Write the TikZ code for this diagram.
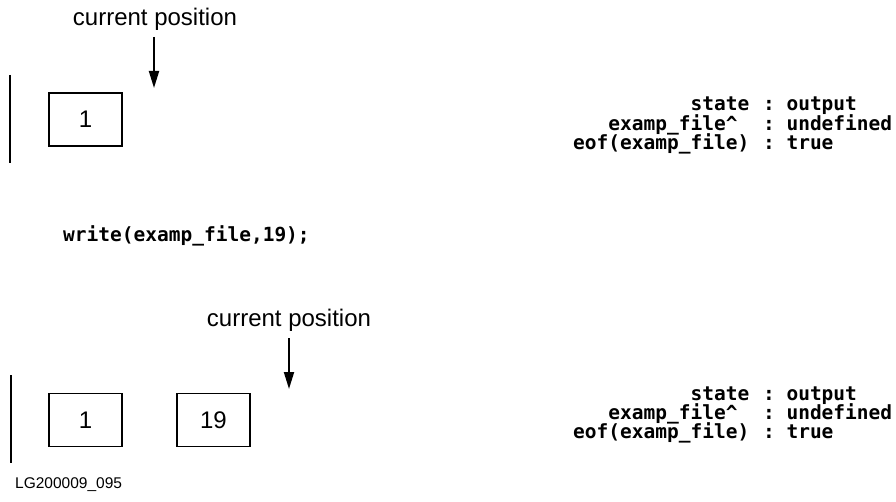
\documentclass[tikz,border=0pt]{standalone}
\usepackage{fontspec}
\setmainfont{Liberation Sans}
\newfontfamily\codefont{DejaVu Sans Mono Bold}
\usetikzlibrary{arrows.meta}
\begin{document}
\begin{tikzpicture}[x=1pt,y=-1pt,
  lbl/.style={font=\fontsize{24}{28}\selectfont, inner sep=0},
  cell/.style={draw, line width=1.9pt, minimum width=73pt, minimum height=53pt, inner sep=0, font=\fontsize{24}{28}\selectfont},
  code/.style={font=\codefont\fontsize{19.5}{22}\selectfont, inner sep=0, anchor=mid west},
  ptr/.style={line width=1.9pt, -{Triangle[length=17pt,width=10pt]}},
  barline/.style={line width=1.9pt},
  small/.style={font=\fontsize{15.5}{18}\selectfont, inner sep=0}
]
\def\cw{11.74}
\def\xo{573}
\useasboundingbox (0,0) rectangle (896,502);
% ---------- top ----------
\node[lbl] (cp1) at (155,19) {current position};
\coordinate (a1s) at (154,37);
\coordinate (a1e) at (154,88);
\draw[ptr] (a1s) -- (a1e);
\coordinate (b1t) at (10,75);
\coordinate (b1b) at (10,163);
\draw[barline] (b1t) -- (b1b);
\node[cell] (t1) at (85.5,119.5) {1};
\node[code] (k1a) at (\xo+10*\cw,108) {state};
\node[code] (c1a) at (\xo+16*\cw+2,108) {:};
\node[code] (v1a) at (\xo+18*\cw+2,108) {output};
\node[code] (k1b) at (\xo+3*\cw,128) {examp\_file\textasciicircum};
\node[code] (c1b) at (\xo+16*\cw+2,128) {:};
\node[code] (v1b) at (\xo+18*\cw+2,128) {undefined};
\node[code] (k1c) at (\xo,147) {eof(examp\_file)};
\node[code] (c1c) at (\xo+16*\cw+2,147) {:};
\node[code] (v1c) at (\xo+18*\cw+2,147) {true};
% ---------- statement ----------
\node[code] (wr) at (63,239) {write(examp\_file,19);};
% ---------- bottom ----------
\node[lbl] (cp2) at (289,320) {current position};
\coordinate (a2s) at (289,338);
\coordinate (a2e) at (289,389);
\draw[ptr] (a2s) -- (a2e);
\coordinate (b2t) at (11,375);
\coordinate (b2b) at (11,463);
\draw[barline] (b2t) -- (b2b);
\node[cell] (u1) at (85.5,420) {1};
\node[cell] (u2) at (213.5,420) {19};
\node[code] (k2a) at (\xo+10*\cw,398) {state};
\node[code] (c2a) at (\xo+16*\cw+2,398) {:};
\node[code] (v2a) at (\xo+18*\cw+2,398) {output};
\node[code] (k2b) at (\xo+3*\cw,417) {examp\_file\textasciicircum};
\node[code] (c2b) at (\xo+16*\cw+2,417) {:};
\node[code] (v2b) at (\xo+18*\cw+2,417) {undefined};
\node[code] (k2c) at (\xo,436) {eof(examp\_file)};
\node[code] (c2c) at (\xo+16*\cw+2,436) {:};
\node[code] (v2c) at (\xo+18*\cw+2,436) {true};
\node[small, anchor=mid west] (lg) at (15,486) {LG200009\_095};
\end{tikzpicture}
\end{document}
